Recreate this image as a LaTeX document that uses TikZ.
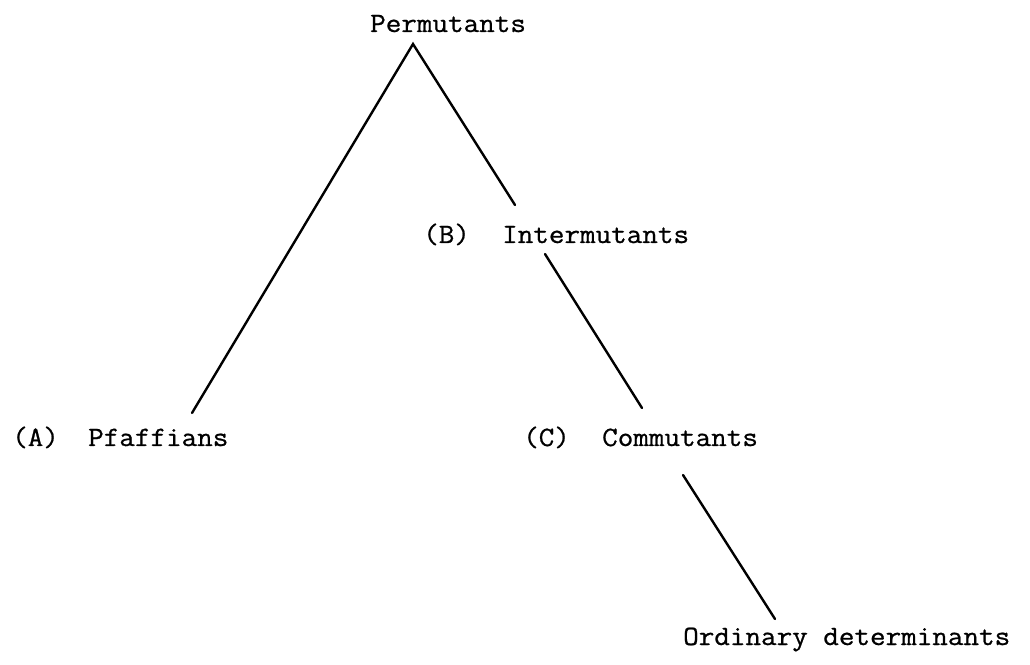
\documentclass[tikz,border=0pt]{standalone}
\usepackage{fontspec}
\newfontfamily\typew[FakeStretch=1.08,FakeBold=0.8]{Latin Modern Mono}
\begin{document}
\begin{tikzpicture}[x=1pt,y=1pt,
  lbl/.style={anchor=base west,inner sep=0pt,font=\fontsize{28}{28}\selectfont\typew},
  branch/.style={line width=2.4pt,line cap=round}]
\useasboundingbox (0,0) rectangle (1030,664);
\fill[white] (0,0) rectangle (1030,664);
\node[lbl] (perm) at (370,632) {Permutants};
\node[lbl] (bl) at (423,421) {(B)};
\node[lbl] (inter) at (502,421) {Intermutants};
\node[lbl] (al) at (12,218) {(A)};
\node[lbl] (pfaff) at (88,218) {Pfaffians};
\node[lbl] (cl) at (523,218) {(C)};
\node[lbl] (comm) at (602,218) {Commutants};
\node[lbl] (ord) at (683,19) {Ordinary determinants};
\coordinate (apex) at (413,620);
\coordinate (pfafftop) at (192,251);
\coordinate (intertop) at (515,459);
\coordinate (interbot) at (545,410);
\coordinate (commtop) at (642,256);
\coordinate (commbot) at (683,189);
\coordinate (ordtop) at (775,45);
\draw[branch] (pfafftop) -- (apex) -- (intertop);
\draw[branch] (interbot) -- (commtop);
\draw[branch] (commbot) -- (ordtop);
\end{tikzpicture}
\end{document}
